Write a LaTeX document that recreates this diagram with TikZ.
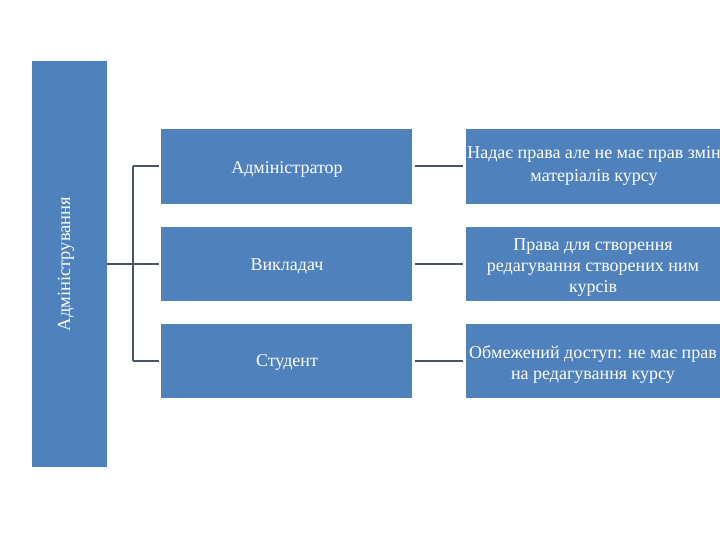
\documentclass[tikz,border=0pt]{standalone}
\usepackage{fontspec}
\setmainfont{Liberation Serif}
\definecolor{boxblue}{HTML}{4F81BD}
\definecolor{linecol}{HTML}{44546A}
\begin{document}
\begin{tikzpicture}[x=1pt,y=-1pt,
  blk/.style={fill=boxblue,draw=none,inner sep=0pt},
  txt/.style={text=white,font=\fontsize{18}{21}\selectfont,align=center,inner sep=0pt},
  conn/.style={draw=linecol,line width=2pt}]
\useasboundingbox (0,0) rectangle (720,540);
\begin{scope}
\clip (0,0) rectangle (720,540);
% left bar
\node[blk,minimum width=75pt,minimum height=406pt] (bar) at (69.5,264) {};
\node[txt,rotate=90,font=\fontsize{18.5}{21}\selectfont] (bart) at (66,264) {Адміністрування};
% middle boxes
\node[blk,minimum width=251pt,minimum height=75pt] (a1) at (286.5,166.5) {};
\node[blk,minimum width=251pt,minimum height=74pt] (a2) at (286.5,264) {};
\node[blk,minimum width=251pt,minimum height=74pt] (a3) at (286.5,361) {};
\node[txt] (a1t) at (287,169) {Адміністратор};
\node[txt] (a2t) at (287,266) {Викладач};
\node[txt] (a3t) at (287,362) {Студент};
% right boxes
\node[blk,minimum width=256pt,minimum height=75pt] (r1) at (594,166.5) {};
\node[blk,minimum width=256pt,minimum height=74pt] (r2) at (594,264) {};
\node[blk,minimum width=256pt,minimum height=74pt] (r3) at (594,361) {};
\node[txt,font=\fontsize{18}{23}\selectfont] (r1t) at (594,166) {Надає права але не має прав змін\\матеріалів курсу};
\node[txt] (r2t) at (593,268) {Права для створення\\редагування створених ним\\курсів};
\node[txt] (r3t) at (593,364) {Обмежений доступ: не має прав\\на редагування курсу};
% connectors
\coordinate (j) at (133,264);
\draw[conn] (bar.east) -- (j);
\draw[conn] (j |- a1.west) -- (j |- a3.west);
\draw[conn,shorten >=2pt] (j |- a1.west) -- (a1.west);
\draw[conn,shorten >=2pt] (j) -- (a2.west);
\draw[conn,shorten >=2pt] (j |- a3.west) -- (a3.west);
\draw[conn,shorten <=3pt,shorten >=3pt] (a1.east) -- (r1.west);
\draw[conn,shorten <=3pt,shorten >=3pt] (a2.east) -- (r2.west);
\draw[conn,shorten <=3pt,shorten >=3pt] (a3.east) -- (r3.west);
\end{scope}
\end{tikzpicture}
\end{document}
